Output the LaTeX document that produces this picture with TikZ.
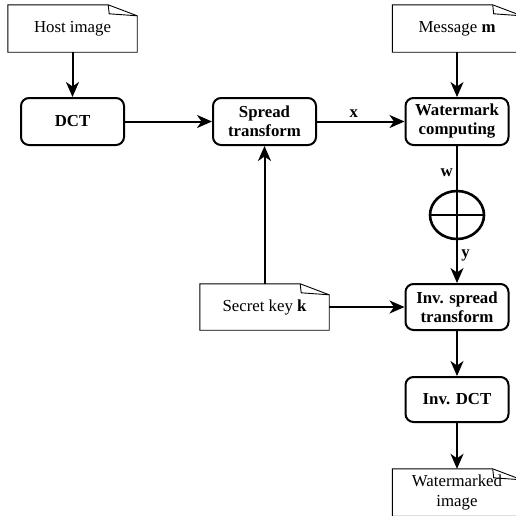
\documentclass[tikz,border=0pt]{standalone}
\usepackage{fontspec}
\setmainfont{Liberation Serif}
\usetikzlibrary{arrows.meta,shapes.geometric}
\begin{document}
\begin{tikzpicture}[x=1pt,y=-1pt,
  proc/.style={draw, line width=2pt, rounded corners=8pt, minimum width=103pt,
    minimum height=47pt, inner sep=0pt, align=center,
    font=\fontsize{16.8}{19}\selectfont\bfseries},
  doc/.style={minimum width=129pt, minimum height=47pt, inner sep=0pt, align=center,
    font=\fontsize{16.8}{20}\selectfont},
  docline/.style={line width=0.9pt},
  flow/.style={line width=2pt, -{Stealth[length=15pt,width=13pt,inset=4.5pt]}},
  lbl/.style={font=\fontsize{16.8}{19}\selectfont\bfseries}]

\useasboundingbox (0,0) rectangle (516,515);

% document-shaped inputs and output
\node[doc] (host) at (72.5,28.5) {Host image};
\node[doc] (msg)  at (457,28.5) {Message \textbf{m}};
\node[doc, minimum width=129pt, minimum height=46pt] (key) at (264.5,307) {Secret key \textbf{k}};
\node[doc] (out)  at (457,492.5) {Watermarked\\image};

% processing blocks
\node[proc] (dct)    at (72.5,121.5) {DCT};
\node[proc] (spread) at (264.5,121.5) {Spread\\transform};
\node[proc] (wm)     at (457,121.5) {Watermark\\computing};
\node[proc, minimum height=46pt] (inv)  at (457,307) {Inv. spread\\transform};
\node[proc, minimum height=45pt] (idct) at (457,399.5) {Inv. DCT};

% adder
\node[ellipse, draw, line width=2.6pt, minimum width=54pt, minimum height=48pt, inner sep=0pt] (plus) at (457,215) {};
\draw[line width=2.6pt] (plus.north) -- (plus.south) (plus.west) -- (plus.east);

% outlines of the document shapes with folded corner
\foreach \n in {host,msg,key,out}{
  \draw[docline] (\n.north west) -- ([xshift=-29pt]\n.north east)
    -- ([yshift=-11pt]\n.north east) -- (\n.south east) -- (\n.south west) -- cycle;
  \draw[docline] ([xshift=-29pt]\n.north east) -- ([xshift=-28pt,yshift=-9pt]\n.north east)
    -- ([yshift=-11pt]\n.north east);
}

% connectors
\draw[flow] (host) -- (dct);
\draw[flow] (dct) -- (spread);
\draw[flow] (spread) -- node[lbl, above, pos=0.42] {x} (wm);
\draw[flow] (msg) -- (wm);
\draw[line width=2pt] (wm) -- node[lbl, left, pos=0.62] {w} (plus);
\draw[flow] (plus) -- node[lbl, right, pos=0.35] {y} (inv);
\draw[flow] (key) -- (spread);
\draw[flow] (key) -- (inv);
\draw[flow] (inv) -- (idct);
\draw[flow] (idct) -- (out);
\end{tikzpicture}
\end{document}
